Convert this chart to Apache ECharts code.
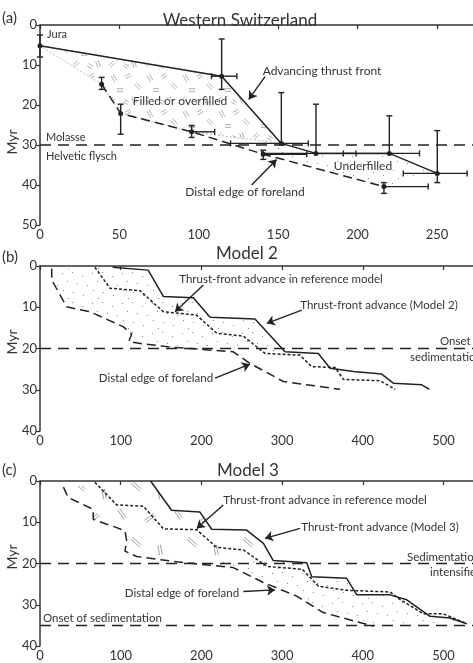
<!DOCTYPE html>
<html>
<head>
<meta charset="utf-8">
<script src="https://cdn.jsdelivr.net/npm/echarts@6/dist/echarts.min.js"></script>
<style>html,body{margin:0;padding:0;background:#fff}#chart{width:473px;height:663px}</style>
</head>
<body>
<div id="chart"></div>
<script>
// (a) Western Switzerland: thrust front points + error bars
var tfX   = [0, 114.4, 152, 173.8, 220, 250.2];
var tfY   = [5.2, 12.8, 29.6, 32.1, 32.1, 37.1];
var tfYlo = [2.5, 3.5, 16.9, 19.8, 22.7, 26.4];
var tfYhi = [8, 16.1, 29.6, 32.1, 32.1, 39.4];
var tfXlo = [0, 108, 120, 139.6, 191, 228.8];
var tfXhi = [0, 124, 169, 199, 239, 269];
// (a) distal edge of foreland
var deX   = [38.8, 50.8, 95.5, 140.6, 216.6];
var deY   = [14.8, 22.1, 26.7, 32.3, 40.4];
var deYlo = [13.1, 19.8, 25.2, 31.3, 39.4];
var deYhi = [16.1, 27.3, 28.1, 33.6, 42.1];
var deXlo = [38.8, 50.8, 95.5, 140.6, 216.6];
var deXhi = [38.8, 50.8, 110, 168, 244.5];
var molasseY = 30;

// (b) Model 2
var m2X = [90, 134, 153, 190, 210.7, 266.4, 303.6, 344.9, 359.4, 388.3, 423.4, 437.8, 473, 482.5];
var m2Y = [0.3, 1, 7.4, 7.7, 12.4, 12.85, 20.8, 21.2, 24.8, 25.6, 26.2, 28.4, 28.8, 29.9];
var refBX = [68, 86.7, 124, 152.8, 194, 219, 252, 278.8, 322, 336.7, 365.6, 375.9, 421.3, 440];
var refBY = [0.3, 5.4, 6, 11.1, 11.9, 16.3, 17, 21.2, 21.6, 24.4, 24.6, 27.5, 27.8, 29.9];
var distBX = [14.5, 14.5, 22, 33, 62, 103, 113.6, 110, 128, 165, 239.5, 260, 301.5, 371.8];
var distBY = [0.6, 3.4, 6, 9.9, 11.1, 14.7, 16.5, 18.3, 18.9, 19.7, 20.8, 23.6, 28, 29.9];
var onsetB = 20;

// (c) Model 3
var m3X = [137, 163, 198, 212.7, 256, 276.8, 289, 330.5, 336.7, 380, 392.5, 433.7, 454.4, 483.3, 508, 528.8];
var m3Y = [0, 7.1, 7.5, 11.7, 11.9, 15.1, 19.3, 19.8, 23.2, 23.6, 27.6, 27.6, 28.8, 32.8, 33.2, 34.6];
var refCX = [68, 95, 128, 152.8, 194, 219, 252, 281, 325, 345, 380, 433.7, 446, 475, 499.8, 528.8];
var refCY = [0.3, 5.8, 6.1, 11.6, 11.8, 16.1, 16.7, 20.7, 21.4, 25.5, 26.5, 26.9, 28.7, 32.2, 32.2, 34.6];
var distCX = [29, 35, 66, 66, 95, 105.3, 107.4, 105.3, 119.8, 169.4, 239.5, 276.7, 318, 351, 413];
var distCY = [1.5, 4, 6.9, 9.3, 11.3, 12.1, 14.5, 17, 18.3, 19.6, 21, 24.6, 27.9, 31.9, 35.2];
var intensC = 20, onsetC = 35;

var xMaxA = 272.7, xMaxB = 536.5;
var ink = '#222';
var FONT = 'Lato, "Noto Sans", sans-serif';

function pts(xs, ys) { return xs.map(function (x, i) { return [x, ys[i]]; }); }

// textures
function stippleTile() {
    var c = document.createElement('canvas'); c.width = 30; c.height = 30;
    var g = c.getContext('2d'); g.fillStyle = '#777';
    var dots = [[2,3],[12,2],[22,6],[7,11],[17,13],[27,15],[3,20],[13,22],[23,25],[8,28]];
    dots.forEach(function (d) { g.beginPath(); g.arc(d[0] + 0.5, d[1] + 0.5, 0.6, 0, 7); g.fill(); });
    return c;
}
function hatchTile(size, marks, col) {
    var c = document.createElement('canvas'); c.width = size; c.height = size;
    var g = c.getContext('2d'); g.strokeStyle = col; g.lineWidth = 0.8;
    marks.forEach(function (m) {
        var a = m[2] * Math.PI / 180, dx = Math.cos(a) * m[3] / 2, dy = Math.sin(a) * m[3] / 2;
        var ox = -Math.sin(a) * 1.3, oy = Math.cos(a) * 1.3;
        [-1, 1].forEach(function (s) {
            g.beginPath();
            g.moveTo(m[0] - dx + s * ox, m[1] - dy + s * oy);
            g.lineTo(m[0] + dx + s * ox, m[1] + dy + s * oy);
            g.stroke();
        });
    });
    return c;
}
var stipple = {image: stippleTile(), repeat: 'repeat'};
var hatchA = {image: hatchTile(36, [[6,6,60,7],[20,4,-30,6],[30,14,45,7],[12,18,0,6],[26,28,70,7],[4,28,-45,6],[18,30,30,5]], '#999'), repeat: 'repeat'};
var hatchC = {image: hatchTile(56, [[10,10,55,12],[38,14,-35,12],[24,38,40,12],[48,46,80,10]], '#888'), repeat: 'repeat'};

function polySeries(gi, poly, fill, stroke) {
    return {
        type: 'custom', xAxisIndex: gi, yAxisIndex: gi, silent: true, z: 1,
        data: [0],
        renderItem: function (params, api) {
            return {
                type: 'polygon',
                shape: {points: poly.map(function (d) { return api.coord(d); })},
                style: {fill: fill, stroke: stroke || null, lineWidth: 0.8, lineDash: [2, 2]}
            };
        }
    };
}

function errSeries(gi, xs, ys, xlo, xhi, ylo, yhi) {
    return {
        type: 'custom', xAxisIndex: gi, yAxisIndex: gi, silent: true, z: 5,
        data: xs.map(function (x, i) { return [x, ys[i]]; }),
        renderItem: function (params, api) {
            var i = params.dataIndex, ch = [];
            var st = {stroke: ink, lineWidth: 1.4};
            function seg(a, b) { ch.push({type: 'line', shape: {x1: a[0], y1: a[1], x2: b[0], y2: b[1]}, style: st}); }
            if (yhi[i] - ylo[i] > 0) {
                var a = api.coord([xs[i], ylo[i]]), b = api.coord([xs[i], yhi[i]]);
                seg(a, b);
                if (ylo[i] < ys[i]) seg([a[0] - 3, a[1]], [a[0] + 3, a[1]]);
                if (yhi[i] > ys[i]) seg([b[0] - 3, b[1]], [b[0] + 3, b[1]]);
            }
            if (xhi[i] - xlo[i] > 0) {
                var c = api.coord([xlo[i], ys[i]]), d = api.coord([xhi[i], ys[i]]);
                seg(c, d);
                if (xlo[i] < xs[i]) seg([c[0], c[1] - 3], [c[0], c[1] + 3]);
                if (xhi[i] > xs[i]) seg([d[0], d[1] - 3], [d[0], d[1] + 3]);
            }
            return {type: 'group', children: ch};
        }
    };
}

function lineSeries(gi, data, dash, extra) {
    var s = {
        type: 'line', xAxisIndex: gi, yAxisIndex: gi, data: data, showSymbol: false, silent: true, z: 4,
        lineStyle: {color: ink, width: 1.5, type: dash || 'solid'}
    };
    for (var k in extra) s[k] = extra[k];
    return s;
}

function arrows(list) {
    return {
        silent: true, symbol: ['none', 'arrow'], symbolSize: 8, animation: false,
        lineStyle: {color: ink, width: 1.4, type: 'solid'}, label: {show: false},
        data: list.map(function (a) { return [{coord: a[0]}, {coord: a[1]}]; })
    };
}

// polygons built from the traced lines
var tfPts = pts(tfX, tfY), dePts = pts(deX, deY);
var polyAfill = tfPts.slice(0, 3).concat(dePts.slice(0, 3).reverse());
var polyAunder = tfPts.slice(2).concat(dePts.slice(3).reverse());
var m2Pts = pts(m2X, m2Y), dBPts = pts(distBX, distBY);
var polyB = m2Pts.slice(0, 7).concat(dBPts.slice(0, 10).reverse());
var m3Pts = pts(m3X, m3Y), dCPts = pts(distCX, distCY);
var polyChatch = m3Pts.slice(0, 7).concat(dCPts.slice(0, 10).reverse());
var polyCstip = m3Pts.slice(6).concat(dCPts.slice(9).reverse());

function xAx(gi, max, iv) {
    return {
        type: 'value', gridIndex: gi, min: 0, max: max, interval: iv,
        axisLine: {lineStyle: {color: '#333', width: 1.5}},
        axisTick: {length: 4, lineStyle: {color: '#333', width: 1.2}},
        axisLabel: {color: '#333', fontSize: 13, fontFamily: FONT, margin: 3, showMaxLabel: false},
        splitLine: {show: false}
    };
}
function yAx(gi, max) {
    return {
        type: 'value', gridIndex: gi, min: 0, max: max, interval: 10, inverse: true,
        axisLine: {show: true, lineStyle: {color: '#333', width: 1.5}},
        axisTick: {show: true, length: 4, lineStyle: {color: '#333', width: 1.2}},
        axisLabel: {color: '#333', fontSize: 13, fontFamily: FONT, margin: 3},
        splitLine: {show: false}
    };
}

function txt(x, y, s, size, align, rot) {
    return {
        type: 'text', x: x, y: y, rotation: rot || 0, silent: true,
        style: {text: s, font: size + 'px ' + FONT, fill: '#333',
            align: align || 'center', textAlign: align || 'center',
            verticalAlign: 'middle', textVerticalAlign: 'middle'}
    };
}

var chart = echarts.init(document.getElementById('chart'));
chart.setOption({
    animation: false,
    backgroundColor: '#fff',
    grid: [
        {left: 40, top: 25, width: 433, height: 200},
        {left: 40, top: 266, width: 433, height: 165},
        {left: 40, top: 481, width: 433, height: 165}
    ],
    xAxis: [xAx(0, xMaxA, 50), xAx(1, xMaxB, 100), xAx(2, xMaxB, 100)],
    yAxis: [yAx(0, 50), yAx(1, 40), yAx(2, 40)],
    series: [
        // (a)
        polySeries(0, polyAfill, hatchA, '#aaa'),
        polySeries(0, polyAunder, stipple),
        lineSeries(0, [[0, molasseY], [xMaxA, molasseY]], [11, 7]),
        lineSeries(0, tfPts, 'solid', {
            showSymbol: true, symbol: 'circle', symbolSize: 5, itemStyle: {color: ink},
            markLine: arrows([[[141.7, 12.9], [131.5, 18.6]], [[133.3, 40], [149, 33.6]]])
        }),
        lineSeries(0, dePts, [9, 5], {showSymbol: true, symbol: 'circle', symbolSize: 5, itemStyle: {color: ink}}),
        errSeries(0, tfX, tfY, tfXlo, tfXhi, tfYlo, tfYhi),
        errSeries(0, deX, deY, deXlo, deXhi, deYlo, deYhi),
        // (b)
        polySeries(1, polyB, stipple),
        lineSeries(1, [[0, onsetB], [xMaxB, onsetB]], [11, 7]),
        lineSeries(1, m2Pts, 'solid', {
            markLine: arrows([[[202.4, 4.6], [167.3, 11.1]], [[324.3, 10.7], [281, 13.9]], [[216.9, 27.2], [260.2, 23.8]]])
        }),
        lineSeries(1, pts(refBX, refBY), [3, 2]),
        lineSeries(1, dBPts, [9, 5]),
        // (c)
        polySeries(2, polyChatch, hatchC),
        polySeries(2, polyCstip, stipple),
        lineSeries(2, [[0, intensC], [xMaxB, intensC]], [11, 7]),
        lineSeries(2, [[0, onsetC], [xMaxB, onsetC]], [11, 7]),
        lineSeries(2, m3Pts, 'solid', {
            markLine: arrows([[[227, 5.8], [194.2, 11.5]], [[322.2, 11.5], [278.8, 13.9]], [[252, 26.8], [291.2, 26.4]]])
        }),
        lineSeries(2, pts(refCX, refCY), [3, 2]),
        lineSeries(2, dCPts, [9, 5])
    ],
    graphic: [
        // (a)
        txt(2, 18, '(a)', 15, 'left'),
        txt(240, 21, 'Western Switzerland', 17),
        txt(47, 34, 'Jura', 11, 'left'),
        txt(46, 137, 'Molasse', 11, 'left'),
        txt(46, 156, 'Helvetic flysch', 11, 'left'),
        txt(180, 101, 'Filled or overfilled', 12),
        txt(322, 71, 'Advancing thrust front', 12),
        txt(363, 166, 'Underfilled', 12),
        txt(245, 192, 'Distal edge of foreland', 12),
        txt(12, 142, 'Myr', 14, 'center', Math.PI / 2),
        // (b)
        txt(2, 257, '(b)', 15, 'left'),
        txt(247, 254, 'Model 2', 17),
        txt(281, 279, 'Thrust-front advance in reference model', 11.5),
        txt(379, 305, 'Thrust-front advance (Model 2)', 11.5),
        txt(440, 341, 'Onset', 11.5, 'left'),
        txt(410, 357, 'sedimentation', 11.5, 'left'),
        txt(156, 378, 'Distal edge of foreland', 11.5),
        txt(12, 342, 'Myr', 14, 'center', Math.PI / 2),
        // (c)
        txt(2, 470, '(c)', 15, 'left'),
        txt(248, 471, 'Model 3', 17),
        txt(325, 500, 'Thrust-front advance in reference model', 11.5),
        txt(380, 527, 'Thrust-front advance (Model 3)', 11.5),
        txt(407, 557, 'Sedimentation', 11.5, 'left'),
        txt(430, 572, 'intensified', 11.5, 'left'),
        txt(182, 593, 'Distal edge of foreland', 11.5),
        txt(43, 618, 'Onset of sedimentation', 11.5, 'left'),
        txt(12, 557, 'Myr', 14, 'center', Math.PI / 2)
    ]
});
</script>
</body>
</html>
